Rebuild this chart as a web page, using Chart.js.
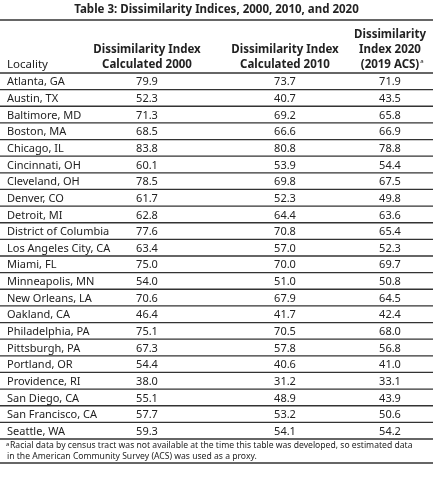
<!DOCTYPE html>
<html lang="en">
<head>
  <meta charset="UTF-8">
  <title>Dissimilarity Indices</title>
  <script src="https://cdn.jsdelivr.net/npm/chart.js"></script>
  <style>
    html, body { margin: 0; padding: 0; background: #fff; }
    #wrap { width: 433px; height: 480px; }
  </style>
</head>
<body>
  <div id="wrap"><canvas id="chart"></canvas></div>
  <script>
    const localities = ['Atlanta, GA', 'Austin, TX', 'Baltimore, MD', 'Boston, MA', 'Chicago, IL',
      'Cincinnati, OH', 'Cleveland, OH', 'Denver, CO', 'Detroit, MI', 'District of Columbia',
      'Los Angeles City, CA', 'Miami, FL', 'Minneapolis, MN', 'New Orleans, LA', 'Oakland, CA',
      'Philadelphia, PA', 'Pittsburgh, PA', 'Portland, OR', 'Providence, RI', 'San Diego, CA',
      'San Francisco, CA', 'Seattle, WA'];
    const idx2000 = [79.9, 52.3, 71.3, 68.5, 83.8, 60.1, 78.5, 61.7, 62.8, 77.6, 63.4, 75.0, 54.0, 70.6, 46.4, 75.1, 67.3, 54.4, 38.0, 55.1, 57.7, 59.3];
    const idx2010 = [73.7, 40.7, 69.2, 66.6, 80.8, 53.9, 69.8, 52.3, 64.4, 70.8, 57.0, 70.0, 51.0, 67.9, 41.7, 70.5, 57.8, 40.6, 31.2, 48.9, 53.2, 54.1];
    const idx2020 = [71.9, 43.5, 65.8, 66.9, 78.8, 54.4, 67.5, 49.8, 63.6, 65.4, 52.3, 69.7, 50.8, 64.5, 42.4, 68.0, 56.8, 41.0, 33.1, 43.9, 50.6, 54.2];
    const title = 'Table 3: Dissimilarity Indices, 2000, 2010, and 2020';
    const headers = [['Locality'], ['Dissimilarity Index', 'Calculated 2000'], ['Dissimilarity Index', 'Calculated 2010'], ['Dissimilarity', 'Index 2020', '(2019 ACS)']];
    const footnote = ['Racial data by census tract was not available at the time this table was developed, so estimated data',
      'in the American Community Survey (ACS) was used as a proxy.'];

    const FONT = '"Noto Sans", sans-serif';
    const colX = [7, 147, 285, 390];

    // draws the table text, using the category scale for row positions
    const tablePlugin = {
      id: 'table',
      afterDraw(chart) {
        const ctx = chart.ctx;
        const y = chart.scales.y;
        const W = chart.width;
        const rowH = Math.abs(y.getPixelForValue(1) - y.getPixelForValue(0));
        const top = y.getPixelForValue(0) - rowH / 2;
        ctx.save();
        ctx.fillStyle = '#222';
        ctx.textBaseline = 'middle';
        ctx.font = 'bold 11.5px ' + FONT;
        ctx.textAlign = 'center';
        ctx.fillText(title, W / 2, 10);
        // header
        headers.forEach((lines, c) => {
          ctx.font = (c === 0 ? '' : 'bold ') + '11.5px ' + FONT;
          ctx.textAlign = c === 0 ? 'left' : 'center';
          const n = lines.length;
          lines.forEach((t, k) => {
            const ty = top - 8 - (n - 1 - k) * 15;
            ctx.fillText(t, colX[c], ty);
            if (c === 3 && k === 2) {
              const w = ctx.measureText(t).width;
              ctx.font = '6px ' + FONT;
              ctx.textAlign = 'left';
              ctx.fillText('a', colX[c] + w / 2 + 1, ty - 4);
            }
          });
        });
        ctx.lineWidth = 1.3;
        ctx.strokeStyle = '#333';
        const hline = yy => { ctx.beginPath(); ctx.moveTo(0, yy); ctx.lineTo(W, yy); ctx.stroke(); };
        hline(20);
        hline(top);
        ctx.font = '11px ' + FONT;
        localities.forEach((loc, i) => {
          const cy = y.getPixelForValue(i);
          ctx.fillStyle = '#222';
          ctx.textAlign = 'left';
          ctx.fillText(loc, colX[0], cy + 1);
          ctx.textAlign = 'center';
          ctx.fillText(idx2000[i].toFixed(1), colX[1], cy + 1);
          ctx.fillText(idx2010[i].toFixed(1), colX[2], cy + 1);
          ctx.fillText(idx2020[i].toFixed(1), colX[3], cy + 1);
          hline(cy + rowH / 2);
        });
        const bottom = y.getPixelForValue(localities.length - 1) + rowH / 2;
        ctx.font = '8.6px ' + FONT;
        ctx.textAlign = 'left';
        ctx.font = '6px ' + FONT;
        ctx.fillText('a', 6, bottom + 5);
        ctx.font = '8.6px ' + FONT;
        ctx.fillText(footnote[0], 10, bottom + 7);
        ctx.fillText(footnote[1], 7, bottom + 18);
        hline(bottom + 24);
        ctx.restore();
      }
    };

    new Chart(document.getElementById('chart'), {
      type: 'bar',
      data: {
        labels: localities,
        datasets: [{ data: idx2000, backgroundColor: 'rgba(0,0,0,0)' }]
      },
      options: {
        indexAxis: 'y',
        responsive: true,
        maintainAspectRatio: false,
        animation: false,
        layout: { padding: { top: 73, bottom: 41, left: 0, right: 0 } },
        plugins: { legend: { display: false }, tooltip: { enabled: false } },
        scales: {
          x: { display: false, min: 0, max: 100 },
          y: { display: false }
        }
      },
      plugins: [tablePlugin]
    });
  </script>
</body>
</html>
